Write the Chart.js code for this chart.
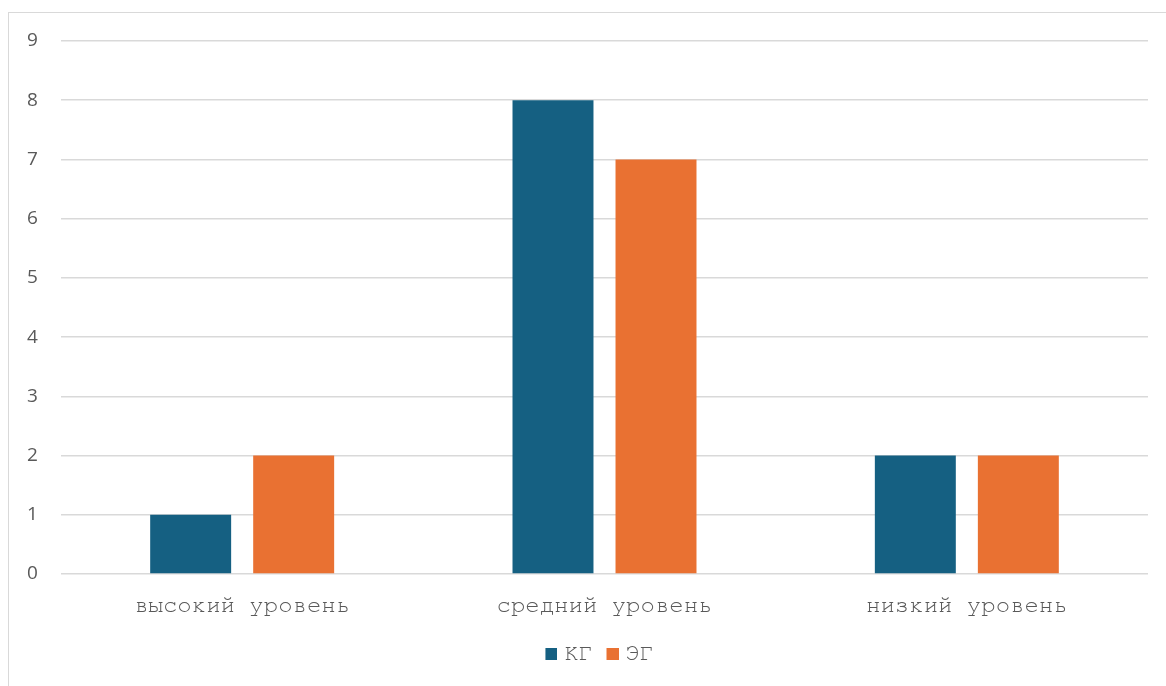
<!DOCTYPE html>
<html>
<head>
<meta charset="utf-8">
<script src="https://cdn.jsdelivr.net/npm/chart.js@4/dist/chart.umd.min.js"></script>
<style>
html,body{margin:0;padding:0;background:#fff;overflow:hidden;}
#wrap{position:relative;width:1166px;height:686px;}
#frame{position:absolute;left:8px;top:12px;width:1300px;height:900px;border:1px solid #d9d9d9;box-sizing:border-box;}
canvas{position:absolute;left:0;top:0;}
</style>
</head>
<body>
<div id="wrap">
<div id="frame"></div>
<canvas id="c" width="1166" height="686"></canvas>
</div>
<script>
const categories = ["высокий уровень", "средний уровень", "низкий уровень"];
const seriesNames = ["КГ", "ЭГ"];
const kgValues = [1, 8, 2];
const egValues = [2, 7, 2];
const yTicks = [0, 1, 2, 3, 4, 5, 6, 7, 8, 9];
const colors = ['#156082', '#E97132'];

const mono = "FreeMono, 'Courier New', monospace";

// legend marker: 12px square placed at the right of a 21px-wide image
function marker(color) {
  const c = document.createElement('canvas');
  c.width = 21; c.height = 12;
  const g = c.getContext('2d');
  g.fillStyle = color;
  g.fillRect(9, 0, 12, 12);
  return c;
}

new Chart(document.getElementById('c'), {
  type: 'bar',
  data: {
    labels: categories,
    datasets: [
      { label: seriesNames[0], data: kgValues, backgroundColor: colors[0], pointStyle: marker(colors[0]), categoryPercentage: 0.5686, barPercentage: 0.786 },
      { label: seriesNames[1], data: egValues, backgroundColor: colors[1], pointStyle: marker(colors[1]), categoryPercentage: 0.5686, barPercentage: 0.786 }
    ]
  },
  options: {
    responsive: false,
    animation: false,
    devicePixelRatio: 1,
    layout: { padding: { left: 46, top: 41, right: 18, bottom: 11 } },
    plugins: {
      tooltip: { enabled: false },
      legend: {
        position: 'bottom',
        labels: {
          font: { family: mono, size: 23 },
          color: '#595959',
          usePointStyle: true,
          pointStyleWidth: 12,
          boxWidth: 12,
          boxHeight: 12,
          padding: 10
        }
      }
    },
    scales: {
      x: {
        grid: { display: false, drawTicks: false },
        border: { display: false },
        ticks: { font: { family: mono, size: 24 }, color: '#595959', padding: 16 },
        afterFit: (s) => { s.height = 58; }
      },
      y: {
        min: 0, max: 9,
        afterBuildTicks: (s) => { s.ticks = yTicks.map(v => ({ value: v })); },
        grid: { color: '#d9d9d9', lineWidth: 1.5, drawTicks: false },
        border: { display: false },
        ticks: { font: { family: "'Open Sans', sans-serif", size: 19 }, color: '#595959', mirror: true, crossAlign: 'far', padding: -34 },
        afterFit: (s) => { s.width = 15; }
      }
    }
  }
});
</script>
</body>
</html>
